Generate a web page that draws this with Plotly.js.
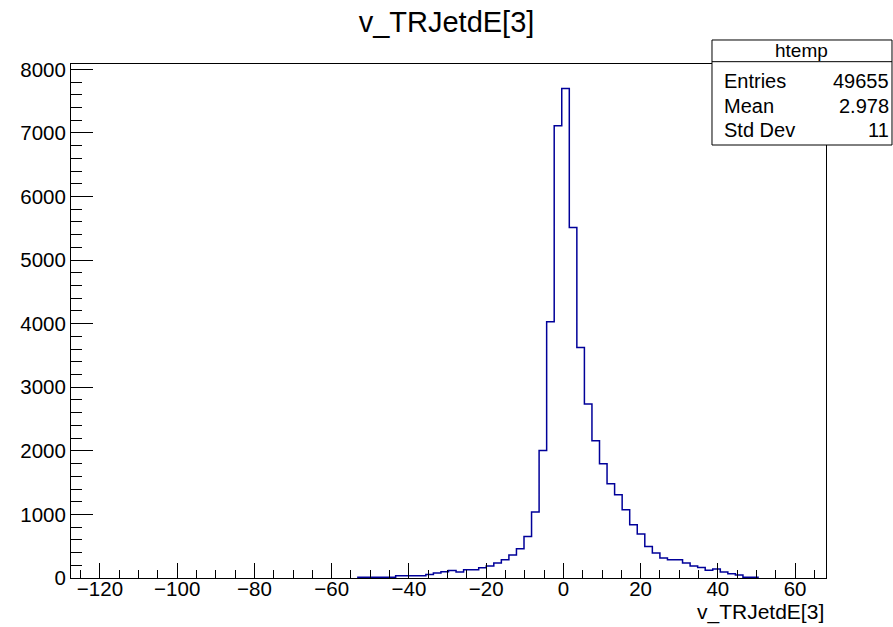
<!DOCTYPE html>
<html><head><meta charset="utf-8">
<script src="https://cdn.plot.ly/plotly-3.0.1.min.js"></script>
<style>html,body{margin:0;padding:0;background:#fff}</style>
</head><body><div id="chart" style="width:893px;height:627px"></div>
<script>
// histogram definition (ROOT htemp)
const histName = "htemp";
const varName = "v_TRJetdE[3]";
const xLow = -127.5;
const xHigh = 68.0;
const nBins = 100;
const firstBin = 38;            // index of first non-empty bin
const counts = [10,10,10,10,10, 36,36,36,36,
  57,79,100,118,94,130,130,162,188,236,288,360,460,652,1037,2006,4029,
  7112,7700,5514,3625,2735,2158,1797,1482,1309,1074,838,692,497,393,314,
  288,288,236,190,167,120,141,94,68,47,10,10];
const statsLabels = ["Entries", "Mean", "Std Dev"];
const statsValues = ["49655", "2.978", "11"];

const binW = (xHigh - xLow) / nBins;
const edge = i => xLow + i * binW;
// step outline (vh): start at baseline, then (upper edge, count) for each bin, back to baseline
const xs = [edge(firstBin)], ys = [0];
counts.forEach((c, k) => { xs.push(edge(firstBin + k + 1)); ys.push(c); });
xs.push(edge(firstBin + counts.length)); ys.push(0);

const yMax = 1.05 * Math.max(...counts);
const FONT = "Liberation Sans, Arial, Helvetica, sans-serif";

const trace = {
  type: "scatter", mode: "lines", x: xs, y: ys,
  line: {shape: "vh", color: "#000099", width: 1.5},
  hoverinfo: "skip", showlegend: false
};

// stats box geometry in paper coords
const bx0 = 0.849, bx1 = 1.0874, by0 = 0.8424, by1 = 1.0467, byh = 1.0045;
const rowY = [0.966, 0.918, 0.871];
const annotations = [
  {text: histName, xref: "paper", yref: "paper", x: (bx0 + bx1) / 2, y: (byh + by1) / 2,
   xanchor: "center", yanchor: "middle", showarrow: false, font: {family: FONT, size: 19, color: "#000"}},
  {text: varName, xref: "paper", yref: "paper", x: 1, y: -0.067, xanchor: "right", yanchor: "middle",
   showarrow: false, font: {family: FONT, size: 21, color: "#000"}}
];
statsLabels.forEach((l, i) => {
  annotations.push({text: l, xref: "paper", yref: "paper", x: 0.8629, y: rowY[i], xanchor: "left",
    yanchor: "middle", showarrow: false, font: {family: FONT, size: 20, color: "#000"}});
  annotations.push({text: statsValues[i], xref: "paper", yref: "paper", x: 1.0866, y: rowY[i], xanchor: "right",
    yanchor: "middle", showarrow: false, font: {family: FONT, size: 20, color: "#000"}});
});

const layout = {
  width: 893, height: 627,
  margin: {l: 71, r: 67, t: 64, b: 49},
  paper_bgcolor: "#fff", plot_bgcolor: "#fff",
  title: {text: varName, x: 0.5, xref: "container", xanchor: "center", y: 0.965, yref: "container", yanchor: "middle",
          font: {family: FONT, size: 29, color: "#000"}},
  xaxis: {range: [xLow, xHigh], dtick: 20, tick0: 0, ticks: "inside", ticklen: 15, tickwidth: 1, tickcolor: "#000",
          minor: {dtick: 5, ticks: "inside", ticklen: 8, tickwidth: 1, tickcolor: "#000", showgrid: false},
          showgrid: false, zeroline: false, showline: true, linecolor: "#000", linewidth: 1, mirror: true,
          ticklabelstandoff: -8,
          tickfont: {family: FONT, size: 20.5, color: "#000"}},
  yaxis: {range: [0, yMax], dtick: 1000, tick0: 0, ticks: "inside", ticklen: 22, tickwidth: 1, tickcolor: "#000",
          minor: {dtick: 200, ticks: "inside", ticklen: 11, tickwidth: 1, tickcolor: "#000", showgrid: false},
          showgrid: false, zeroline: false, showline: true, linecolor: "#000", linewidth: 1, mirror: true,
          tickfont: {family: FONT, size: 20.5, color: "#000"}},
  shapes: [
    {type: "rect", xref: "paper", yref: "paper", x0: bx0, x1: bx1, y0: by0, y1: by1,
     line: {color: "#000", width: 1}, fillcolor: "#fff", layer: "above"},
    {type: "line", xref: "paper", yref: "paper", x0: bx0, x1: bx1, y0: byh, y1: byh,
     line: {color: "#000", width: 1}, layer: "above"}
  ],
  annotations: annotations
};

Plotly.newPlot("chart", [trace], layout, {staticPlot: true, displayModeBar: false});
</script>
</body></html>
